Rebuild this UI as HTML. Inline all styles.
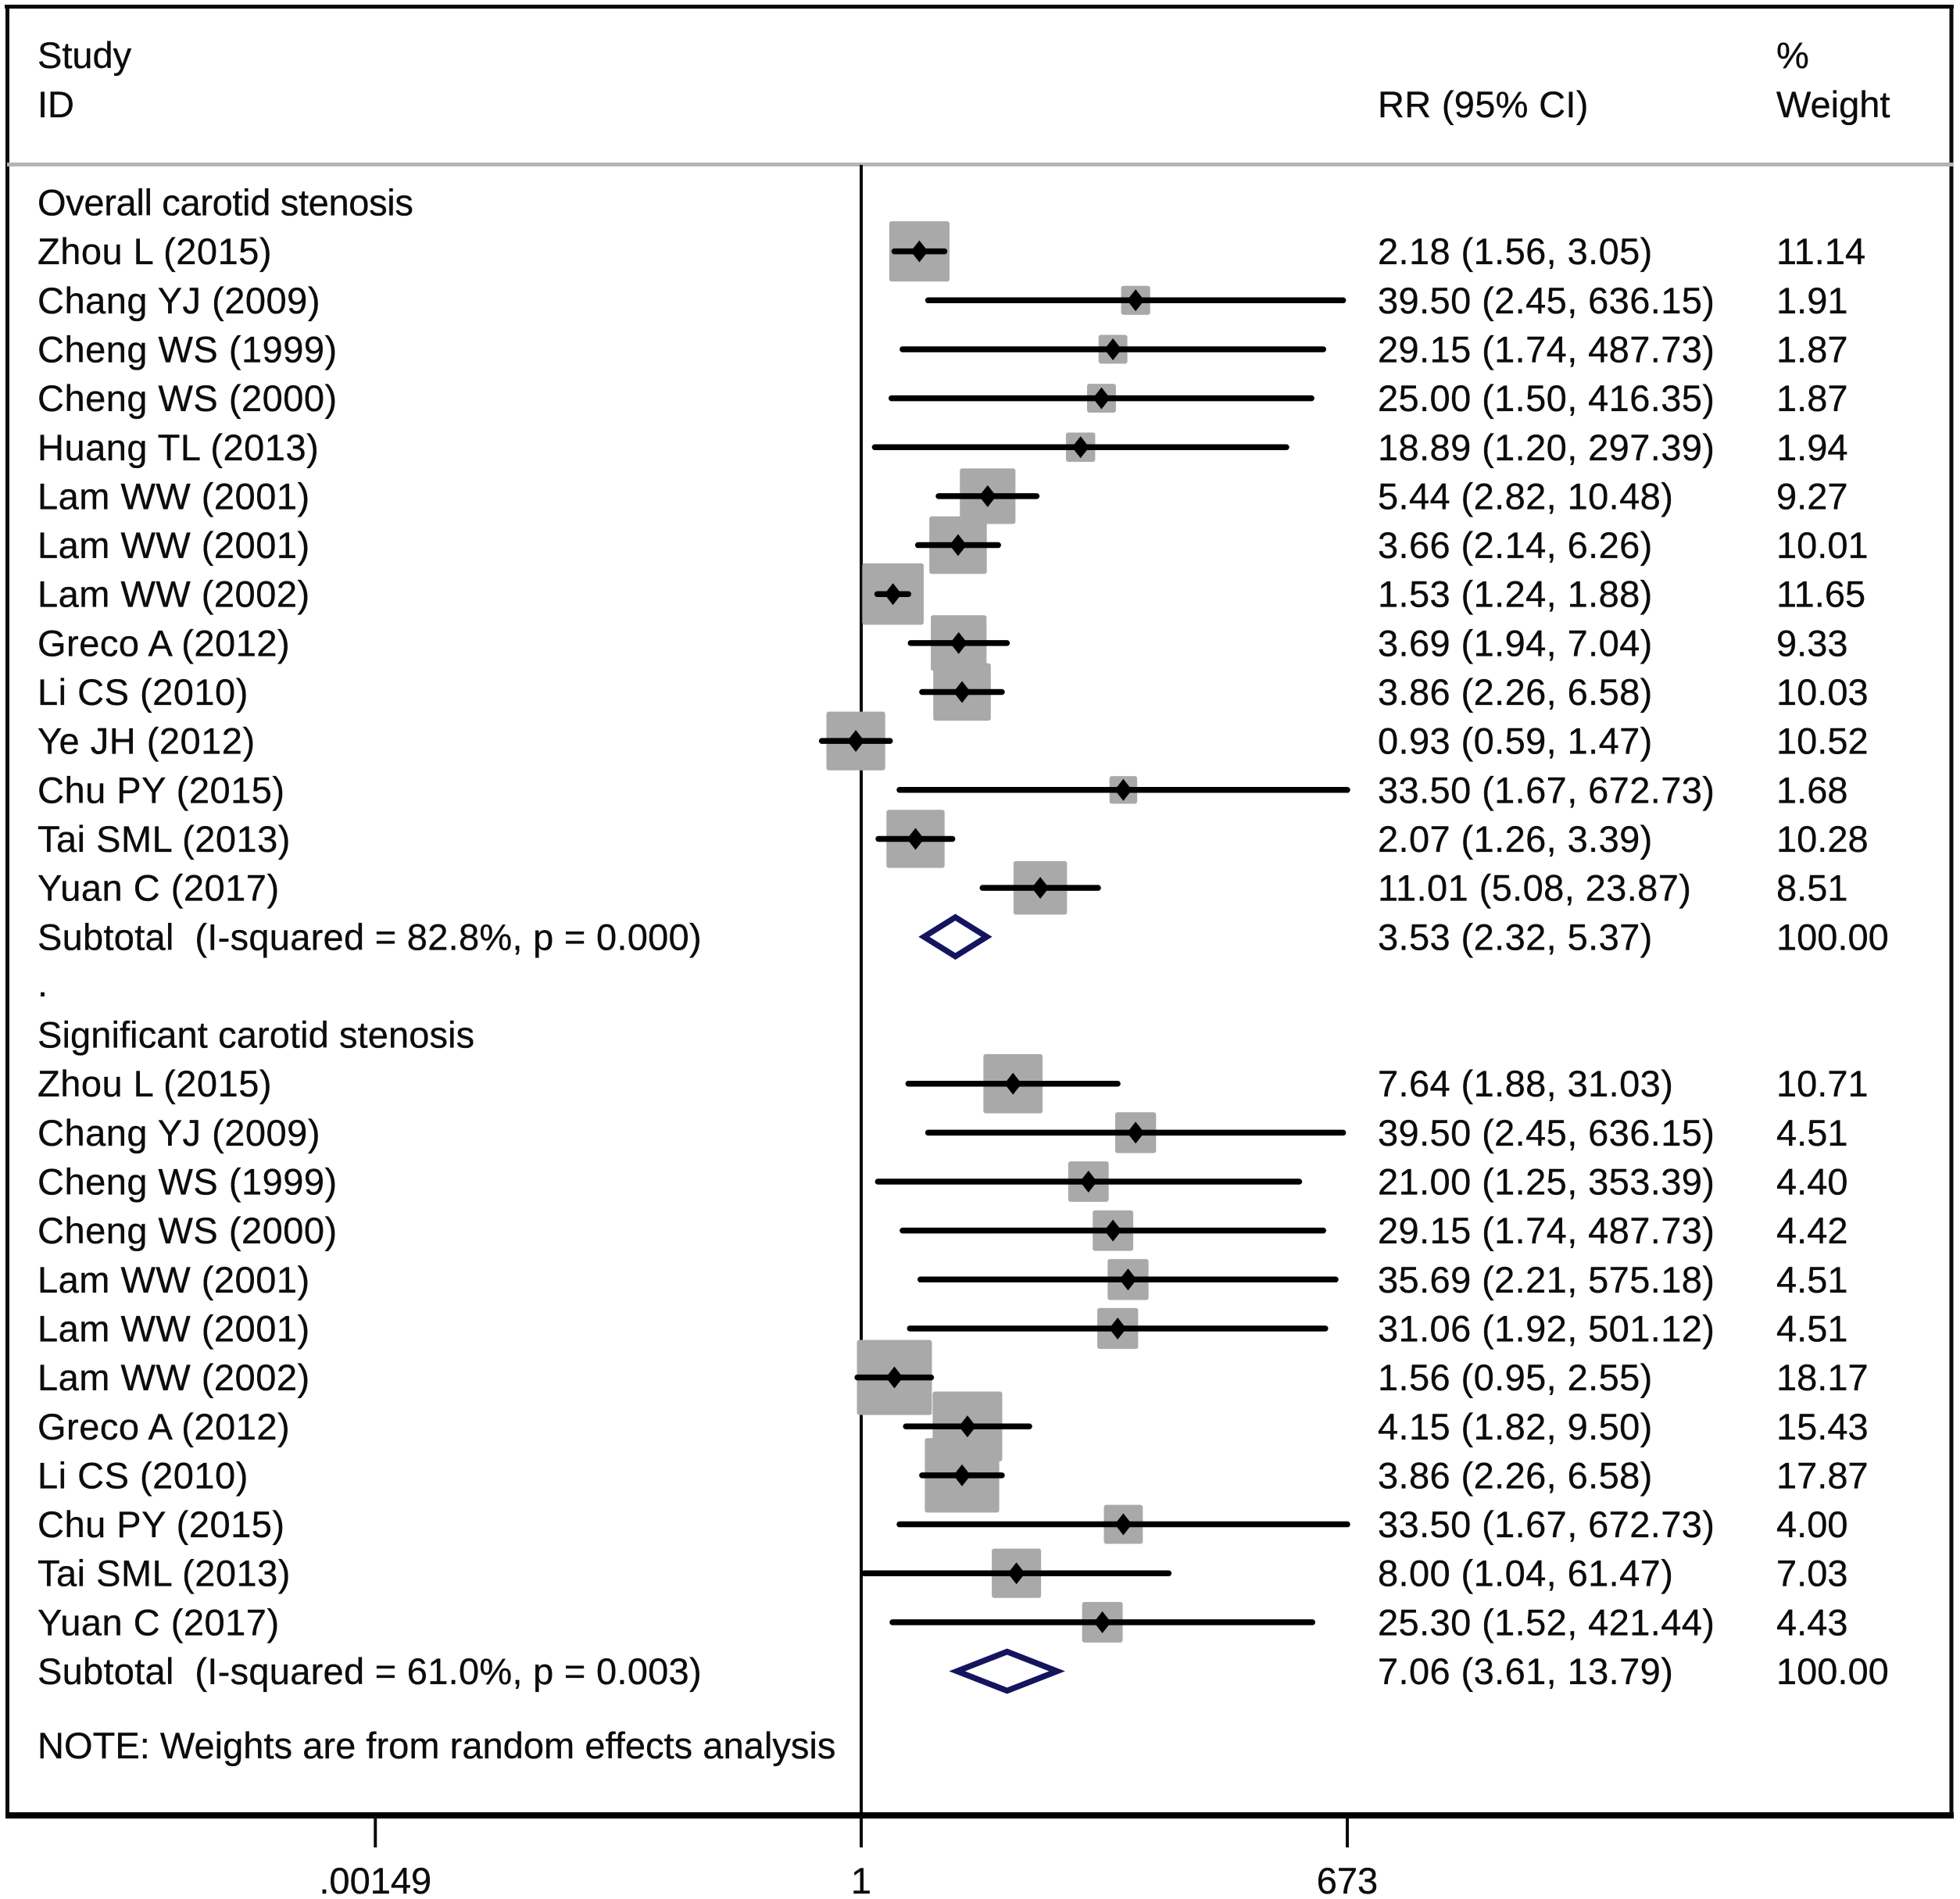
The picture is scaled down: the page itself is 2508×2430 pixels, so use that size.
<!DOCTYPE html>
<html lang="en">
<head>
<meta charset="utf-8">
<title>Forest plot of carotid stenosis</title>
<style>
  html, body { margin: 0; padding: 0; background: #fff; }
  svg { display: block; }
  text { font-family: "Liberation Sans", Arial, sans-serif; font-size: 47px; fill: #0c0c0c; stroke: #0c0c0c; stroke-width: 0.35px; }
</style>
</head>
<body>
<svg id="chart" xmlns="http://www.w3.org/2000/svg" width="2508" height="2430" viewBox="0 0 2508 2430">
  <rect x="0" y="0" width="2508" height="2430" fill="#ffffff"/>
  <g id="frame"></g>
  <g id="marks"></g>
  <g id="labels"></g>
</svg>
<script>
// ---- Overall carotid stenosis ----
const overallStudies = ["Zhou L (2015)","Chang YJ (2009)","Cheng WS (1999)","Cheng WS (2000)","Huang TL (2013)","Lam WW (2001)","Lam WW (2001)","Lam WW (2002)","Greco A (2012)","Li CS (2010)","Ye JH (2012)","Chu PY (2015)","Tai SML (2013)","Yuan C (2017)"];
const overallRR = [2.18,39.50,29.15,25.00,18.89,5.44,3.66,1.53,3.69,3.86,0.93,33.50,2.07,11.01];
const overallLow = [1.56,2.45,1.74,1.50,1.20,2.82,2.14,1.24,1.94,2.26,0.59,1.67,1.26,5.08];
const overallHigh = [3.05,636.15,487.73,416.35,297.39,10.48,6.26,1.88,7.04,6.58,1.47,672.73,3.39,23.87];
const overallWeight = [11.14,1.91,1.87,1.87,1.94,9.27,10.01,11.65,9.33,10.03,10.52,1.68,10.28,8.51];
const overallSummary = [3.53,2.32,5.37];
const overallSubtotalLabel = "Subtotal  (I-squared = 82.8%, p = 0.000)";

// ---- Significant carotid stenosis ----
const significantStudies = ["Zhou L (2015)","Chang YJ (2009)","Cheng WS (1999)","Cheng WS (2000)","Lam WW (2001)","Lam WW (2001)","Lam WW (2002)","Greco A (2012)","Li CS (2010)","Chu PY (2015)","Tai SML (2013)","Yuan C (2017)"];
const significantRR = [7.64,39.50,21.00,29.15,35.69,31.06,1.56,4.15,3.86,33.50,8.00,25.30];
const significantLow = [1.88,2.45,1.25,1.74,2.21,1.92,0.95,1.82,2.26,1.67,1.04,1.52];
const significantHigh = [31.03,636.15,353.39,487.73,575.18,501.12,2.55,9.50,6.58,672.73,61.47,421.44];
const significantWeight = [10.71,4.51,4.40,4.42,4.51,4.51,18.17,15.43,17.87,4.00,7.03,4.43];
const significantSummary = [7.06,3.61,13.79];
const significantSubtotalLabel = "Subtotal  (I-squared = 61.0%, p = 0.003)";

// ---- Axis ----
const tickValues = [0.00149,1,673];
const tickLabels = [".00149","1","673"];

const NS = "http://www.w3.org/2000/svg";
const frameG = document.getElementById("frame");
const marksG = document.getElementById("marks");
const labelsG = document.getElementById("labels");

function xScale(v) { return 1102 + Math.log(v) / Math.log(673) * 622; }
function rowLine(i) { return 259 + 62.65 * i; }
function rowBase(i) { return 275.5 + 62.65 * i; }
function boxSize(w) { return 20.4 * Math.sqrt(w) + 9; }

function make(tag, attrs, parent) {
  const el = document.createElementNS(NS, tag);
  for (const k in attrs) el.setAttribute(k, attrs[k]);
  parent.appendChild(el);
  return el;
}
function label(str, x, y, name, anchor, spacing) {
  const t = make("text", { x: x, y: y, "text-anchor": anchor || "start" }, labelsG);
  t.setAttribute("xml:space", "preserve");
  t.style.whiteSpace = "pre";
  if (spacing) t.style.letterSpacing = spacing + "px";
  t.textContent = str;
  
  
  return t;
}
function fmtCI(rr, lo, hi) {
  return rr.toFixed(2) + " (" + lo.toFixed(2) + ", " + hi.toFixed(2) + ")";
}

const COL_STUDY = 48, COL_RR = 1763, COL_WEIGHT = 2273;

// Frame and axes
function line(x1, y1, x2, y2, color, w, name) {
  const l = make("line", { x1: x1, y1: y1, x2: x2, y2: y2, stroke: color, "stroke-width": w }, frameG);
  
  
  return l;
}
line(6, 8.5, 2500, 8.5, "#0a0a0a", 5, "frame-top");
line(9.5, 6, 9.5, 2325, "#0a0a0a", 5, "frame-left");
line(2497, 6, 2497, 2325, "#0a0a0a", 5, "frame-right");
line(9, 210.5, 2500, 210.5, "#b4b4b4", 5, "header-rule");
line(1102, 211, 1102, 2323, "#0a0a0a", 4, "null-effect-line");
line(7, 2323, 2500, 2323, "#000000", 8, "x-axis-line");

// Axis ticks
tickValues.forEach(function (v, i) {
  const x = xScale(v);
  line(x, 2323, x, 2364, "#0a0a0a", 4, "x-axis-tick");
  label(tickLabels[i], x, 2423, "x-axis-tick-label", "middle");
});

// Header
label("Study", COL_STUDY, 87, "column-header-study");
label("ID", COL_STUDY, 150, "column-header-id");
label("RR (95% CI)", COL_RR, 150, "column-header-rr", "start", 0.3);
label("%", COL_WEIGHT, 87, "column-header-percent");
label("Weight", COL_WEIGHT, 150, "column-header-weight");

function drawBox(rr, w, y) {
  const s = boxSize(w);
  const r = make("rect", { x: xScale(rr) - s / 2, y: y - s / 2, width: s, height: s, rx: 3, ry: 3, fill: "#a9a9a9" }, marksG);
  
  
}
function drawCI(rr, lo, hi, y) {
  const l = make("line", { x1: xScale(lo), y1: y, x2: xScale(hi), y2: y, stroke: "#000", "stroke-width": 7.5, "stroke-linecap": "round" }, marksG);
  
  
  const cx = xScale(rr);
  const d = make("polygon", { points: [cx - 11, y, cx, y - 14, cx + 11, y, cx, y + 14].join(" "), fill: "#000" }, marksG);
  
  
}
function drawSummary(s, y) {
  const x0 = xScale(s[1]), xc = xScale(s[0]), x1 = xScale(s[2]);
  const d = make("polygon", { points: [x0, y, xc, y - 25, x1, y, xc, y + 25].join(" "), fill: "none", stroke: "#14145f", "stroke-width": 7.5 }, marksG);
  
  
}
function drawGroup(heading, headingRow, headingSpacing, studies, rr, lo, hi, wt, summary, subLabel) {
  label(heading, COL_STUDY, rowBase(headingRow), "subgroup-heading", "start", headingSpacing);
  // boxes first so CI lines sit on top of every box
  studies.forEach(function (name, i) {
    drawBox(rr[i], wt[i], rowLine(headingRow + 1 + i));
  });
  studies.forEach(function (name, i) {
    const row = headingRow + 1 + i;
    drawCI(rr[i], lo[i], hi[i], rowLine(row));
    label(name, COL_STUDY, rowBase(row), "study-label", "start", 0.5);
    label(fmtCI(rr[i], lo[i], hi[i]), COL_RR, rowBase(row), "study-rr-ci", "start", 0.4);
    label(wt[i].toFixed(2), COL_WEIGHT, rowBase(row), "study-weight");
  });
  const sr = headingRow + 1 + studies.length;
  drawSummary(summary, rowLine(sr));
  label(subLabel, COL_STUDY, rowBase(sr), "subtotal-label", "start", 0.28);
  label(fmtCI(summary[0], summary[1], summary[2]), COL_RR, rowBase(sr), "subtotal-rr-ci", "start", 0.4);
  label("100.00", COL_WEIGHT, rowBase(sr), "subtotal-weight");
}

drawGroup("Overall carotid stenosis", 0, -0.33, overallStudies, overallRR, overallLow, overallHigh, overallWeight, overallSummary, overallSubtotalLabel);
label(".", COL_STUDY, rowBase(16) - 3, "subgroup-separator");
drawGroup("Significant carotid stenosis", 17, 0.1, significantStudies, significantRR, significantLow, significantHigh, significantWeight, significantSummary, significantSubtotalLabel);

label("NOTE: Weights are from random effects analysis", COL_STUDY, 2250, "weights-note", "start", 0.04);
</script>
</body>
</html>
